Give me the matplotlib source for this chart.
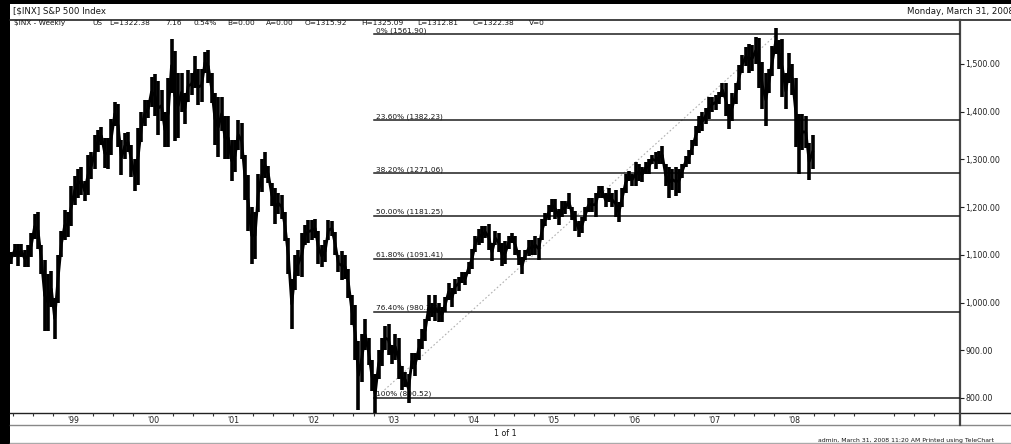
import numpy as np
import matplotlib.pyplot as plt
from matplotlib.ticker import FuncFormatter, FixedLocator

plt.rcParams['font.family'] = ['DejaVu Sans']

# S&P 500, half-month high/low bars. First bar = second half of March 1998
start_year, start_half = 1998, 5   # half index within the year (0 = Jan first half)

highs = [
    1105,                                                       # 1998 Mar
    1123, 1122, 1122, 1110, 1120, 1145, 1186, 1190, 1121, 1090,
    1060, 1066, 1010, 1100, 1150, 1193, 1190, 1244,
    1265, 1280, 1283, 1255, 1310, 1316, 1350, 1362, 1368, 1345,  # 1999
    1345, 1384, 1421, 1415, 1340, 1356, 1357, 1330, 1300, 1365,
    1400, 1424, 1425, 1473,
    1478, 1465, 1445, 1400, 1470, 1553, 1527, 1480, 1481, 1440,  # 2000
    1488, 1480, 1517, 1490, 1490, 1525, 1530, 1480, 1440, 1430,
    1431, 1390, 1390, 1340,
    1340, 1383, 1376, 1310, 1267, 1200, 1190, 1269, 1300, 1316,  # 2001
    1287, 1250, 1239, 1230, 1226, 1190, 1135, 1050, 1100, 1110,
    1145, 1163, 1173, 1172,
    1176, 1150, 1120, 1130, 1173, 1170, 1147, 1100, 1107, 1100,  # 2002
    1070, 1015, 994, 920, 935, 965, 925, 880, 850, 900,
    925, 951, 954, 912,
    935, 925, 866, 855, 850, 895, 895, 923, 945, 965,            # 2003
    1015, 1000, 1015, 1000, 990, 1012, 1040, 1030, 1050, 1054,
    1064, 1064, 1085, 1112,
    1140, 1155, 1160, 1160, 1164, 1125, 1150, 1145, 1125, 1128,  # 2004
    1140, 1146, 1140, 1110, 1095, 1110, 1130, 1130, 1140, 1135,
    1175, 1188, 1205, 1217,
    1217, 1195, 1212, 1212, 1229, 1200, 1192, 1170, 1180, 1200,  # 2005
    1220, 1220, 1230, 1245, 1245, 1230, 1240, 1230, 1235, 1210,
    1240, 1270, 1275, 1270,
    1295, 1290, 1285, 1295, 1300, 1310, 1315, 1318, 1327, 1290,  # 2006
    1285, 1280, 1283, 1280, 1290, 1306, 1320, 1340, 1370, 1390,
    1400, 1408, 1431, 1431,
    1435, 1441, 1461, 1461, 1415, 1440, 1460, 1498, 1518, 1535,  # 2007
    1541, 1540, 1556, 1555, 1503, 1480, 1490, 1538, 1576, 1550,
    1552, 1480, 1523, 1500,
    1471, 1395, 1396, 1390, 1335, 1350,                          # 2008
]
lows = [
    1080,
    1096, 1076, 1095, 1074, 1074, 1096, 1133, 1112, 1060, 940,
    940, 990, 923, 1000, 1095, 1130, 1137, 1160,
    1205, 1220, 1225, 1212, 1226, 1258, 1280, 1315, 1330, 1281,
    1279, 1310, 1370, 1325, 1268, 1300, 1315, 1263, 1233, 1247,
    1336, 1370, 1387, 1410,
    1390, 1350, 1380, 1325, 1325, 1440, 1339, 1345, 1400, 1374,
    1420, 1435, 1450, 1413, 1420, 1480, 1460, 1419, 1330, 1305,
    1360, 1300, 1300, 1254,
    1274, 1320, 1300, 1215, 1150, 1081, 1091, 1190, 1232, 1260,
    1250, 1203, 1165, 1185, 1175, 1129, 1060, 944, 1026, 1055,
    1054, 1120, 1124, 1130,
    1135, 1081, 1074, 1085, 1130, 1140, 1100, 1063, 1048, 1050,
    1010, 953, 880, 775, 833, 900, 870, 815, 768, 840,
    866, 900, 890, 872,
    880, 840, 817, 822, 789, 860, 847, 880, 902, 920,
    962, 970, 962, 960, 960, 980, 1005, 990, 1018, 1025,
    1040, 1036, 1060, 1070,
    1106, 1120, 1124, 1135, 1110, 1087, 1120, 1105, 1076, 1080,
    1113, 1125, 1100, 1078, 1060, 1090, 1098, 1100, 1100, 1090,
    1130, 1160, 1173, 1190,
    1175, 1163, 1180, 1185, 1195, 1172, 1150, 1137, 1146, 1170,
    1190, 1190, 1180, 1220, 1220, 1200, 1210, 1200, 1180, 1168,
    1200, 1230, 1255, 1245,
    1245, 1255, 1253, 1270, 1270, 1290, 1280, 1290, 1290, 1245,
    1219, 1235, 1224, 1230, 1260, 1285, 1290, 1310, 1327, 1355,
    1360, 1375, 1385, 1400,
    1404, 1415, 1430, 1390, 1364, 1380, 1416, 1445, 1481, 1495,
    1480, 1485, 1500, 1449, 1406, 1370, 1439, 1475, 1520, 1490,
    1430, 1406, 1460, 1435,
    1325, 1270, 1320, 1324, 1256, 1280,
]

fib_pcts = ['0%', '23.60%', '38.20%', '50.00%', '61.80%', '76.40%', '100%']
fib_levels = [1561.90, 1382.23, 1271.06, 1181.25, 1091.41, 980.20, 800.52]
fib_start = 2002.78   # Oct 2002 low
fib_end = 2007.78     # Oct 2007 high

year_ticks = [1999, 2000, 2001, 2002, 2003, 2004, 2005, 2006, 2007, 2008]
year_labels = ["'99", "'00", "'01", "'02", "'03", "'04", "'05", "'06", "'07", "'08"]
price_ticks = [800, 900, 1000, 1100, 1200, 1300, 1400, 1500]

# quote line fields of the header
info_fields = ['\\$INX - Weekly', 'US', 'L=1322.38', '7.16', '0.54%', 'B=0.00',
               'A=0.00', 'O=1315.92', 'H=1325.09', 'L=1312.81', 'C=1322.38', 'V=0']
info_x = [14, 92, 109, 165, 193, 227, 266, 305, 361, 417, 473, 529]

FS = 5.7
FS_SMALL = 5.3
TXT = '#161616'

W, H = 1011, 444
fig = plt.figure(figsize=(W / 100, H / 100), dpi=100)

# page decoration in pixel coordinates
ov = fig.add_axes([0, 0, 1, 1], zorder=0)
ov.set_xlim(0, W)
ov.set_ylim(H, 0)
ov.axis('off')
ov.fill_between([0, W], 0, 4, color='black', lw=0)
ov.fill_between([0, 10], 0, H, color='black', lw=0)
ov.plot([10, W], [20, 20], color='#222222', lw=1.2)
ov.plot([10, W], [413, 413], color='#222222', lw=1.0)
ov.plot([10, W], [425, 425], color='#888888', lw=1.0)
ov.plot([10, W], [443, 443], color='#aaaaaa', lw=1.0)
ov.plot([960, 960], [20, 425], color='#444444', lw=1.6)
ov.text(13, 11, '[\\$INX] S&P 500 Index', fontsize=6.2, va='center', color=TXT)
ov.text(907, 11, 'Monday, March 31, 2008', fontsize=6.2, va='center', color=TXT, clip_on=True)
for s, x in zip(info_fields, info_x):
    ov.text(x, 23, s, fontsize=FS_SMALL, va='center', color=TXT)
ov.text(505, 433, '1 of 1', fontsize=FS, ha='center', va='center', color=TXT)
ov.text(818, 440, 'admin, March 31, 2008 11:20 AM Printed using TeleChart', fontsize=4.4,
        va='center', color=TXT, clip_on=True)

ax = fig.add_axes([10 / W, (H - 413) / H, 950 / W, (413 - 20) / H], zorder=1)
ax.patch.set_alpha(0)
for s in ax.spines.values():
    s.set_visible(False)

idx = start_half + np.arange(len(highs))
t = start_year + (idx + 0.5) / 24.0
mid = (np.array(highs) + np.array(lows)) / 2
ax.vlines(t, lows, highs, color='black', lw=2.6, zorder=3)
ax.plot(t, mid, color='black', lw=2.0, zorder=3)

for pct, lev in zip(fib_pcts, fib_levels):
    ax.plot([fib_start - 0.03, 2011], [lev, lev], color='#1e1e1e', lw=1.1, zorder=2)
    ax.annotate(f'{pct} ({lev:.2f})', (fib_start, lev), xytext=(0, 0.4),
                textcoords='offset points', fontsize=FS_SMALL, color=TXT,
                va='bottom', ha='left', zorder=1)
ax.plot([fib_start, fib_end], [fib_levels[-1], fib_levels[0]], color='#b0b0b0',
        ls=(0, (1.5, 2)), lw=0.8, zorder=1)

ax.set_xlim(1998.213, 2010.07)
ax.set_ylim(768.5, 1592)

ax.yaxis.tick_right()
ax.yaxis.set_major_locator(FixedLocator(price_ticks))
ax.yaxis.set_major_formatter(FuncFormatter(lambda v, p: f'{v:,.2f}'))
ax.tick_params(axis='y', length=3, width=0.8, pad=1, labelsize=FS, colors='#222222')

ax.xaxis.set_major_locator(FixedLocator(year_ticks))
ax.set_xticklabels(year_labels)
quarters = [y + q / 4 for y in range(1998, 2010) for q in (1, 2, 3)]
ax.xaxis.set_minor_locator(FixedLocator(quarters))
ax.tick_params(axis='x', which='major', length=0, pad=2, labelsize=FS, colors='#222222')
ax.tick_params(axis='x', which='minor', length=2, width=0.8, color='#333333')

fig.savefig('out.png', dpi=100)
